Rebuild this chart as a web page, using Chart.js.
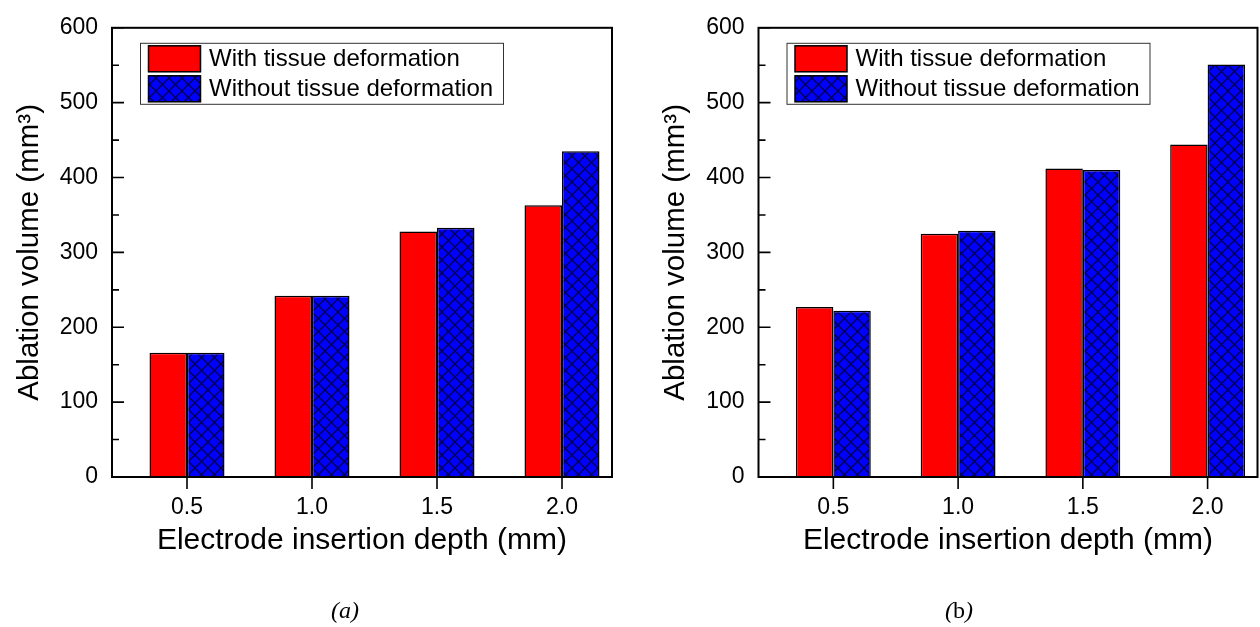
<!DOCTYPE html>
<html>
<head>
<meta charset="utf-8">
<script src="https://cdn.jsdelivr.net/npm/chart.js@4.4.1/dist/chart.umd.min.js"></script>
<style>
  body { margin: 0; background: #fff; width: 1260px; height: 627px; position: relative; overflow: hidden; }
  canvas { position: absolute; top: 0; }
  #chartA { left: 0; }
  #chartB { left: 630px; }
  .caption { position: absolute; top: 597px; font-family: "Liberation Serif", serif; font-size: 24px; color: #000; }
</style>
</head>
<body>
<canvas id="chartA" width="630" height="627"></canvas>
<canvas id="chartB" width="630" height="627"></canvas>
<div class="caption" style="left:331px"><i>(a)</i></div>
<div class="caption" style="left:945px"><i>(</i>b<i>)</i></div>
<script>
// electrode insertion depth (mm)
const depths = [0.5, 1.0, 1.5, 2.0];
// ablation volume (mm^3), panel (a)
const withDeformA = [166, 242, 328, 363];
const withoutDeformA = [166, 242, 333, 435];
// ablation volume (mm^3), panel (b)
const withDeformB = [227, 325, 412, 444];
const withoutDeformB = [222, 329, 410, 551];
const seriesLabels = ['With tissue deformation', 'Without tissue deformation'];

Chart.defaults.font.family = '"Liberation Sans", Arial, sans-serif';
Chart.defaults.color = '#000';

// blue cross-hatch fill
function makeHatch() {
  const s = 13;
  const c = document.createElement('canvas');
  c.width = s; c.height = s;
  const g = c.getContext('2d');
  g.fillStyle = '#0000ff';
  g.fillRect(0, 0, s, s);
  g.strokeStyle = '#00004a';
  g.lineWidth = 1.3;
  g.beginPath();
  g.moveTo(-2, -2); g.lineTo(s + 2, s + 2);
  g.moveTo(s + 2, -2); g.lineTo(-2, s + 2);
  g.stroke();
  return g.createPattern(c, 'repeat');
}

// box around the plot, inward y ticks, outward x ticks, boxed legend
const framePlugin = {
  id: 'frame',
  afterDatasetsDraw(chart) {
    const { ctx, chartArea: a, scales: { x, y } } = chart;
    ctx.save();
    ctx.strokeStyle = '#000';
    ctx.lineWidth = 2;
    ctx.strokeRect(a.left, a.top, a.right - a.left, a.bottom - a.top);

    ctx.lineWidth = 1.6;
    ctx.beginPath();
    y.ticks.forEach((t, i) => {
      const py = y.getPixelForValue(t.value);
      ctx.moveTo(a.left, py); ctx.lineTo(a.left + 12, py);
      if (i < y.ticks.length - 1) {
        const pm = y.getPixelForValue((t.value + y.ticks[i + 1].value) / 2);
        ctx.moveTo(a.left, pm); ctx.lineTo(a.left + 7, pm);
      }
    });
    x.ticks.forEach(t => {
      const px = x.getPixelForValue(t.value);
      ctx.moveTo(px, a.bottom); ctx.lineTo(px, a.bottom + 12);
    });
    ctx.stroke();

    // legend
    const bx = a.left + 28.5, by = a.top + 15.5;
    ctx.lineWidth = 1;
    ctx.strokeStyle = '#333';
    ctx.strokeRect(bx, by, 363, 61);
    ctx.font = '24px "Liberation Sans", Arial, sans-serif';
    ctx.textBaseline = 'middle';
    chart.data.datasets.forEach((ds, i) => {
      const sy = by + 2.5 + i * 30;
      ctx.fillStyle = ds.backgroundColor;
      ctx.fillRect(bx + 8, sy, 52, 26);
      ctx.lineWidth = 1.5;
      ctx.strokeStyle = '#000';
      ctx.strokeRect(bx + 8, sy, 52, 26);
      ctx.fillStyle = '#000';
      ctx.fillText(ds.label, bx + 68.5, sy + 14);
    });
    ctx.restore();
  }
};

function makeChart(id, withVals, withoutVals, padLeft, padRight) {
  const ctx = document.getElementById(id);
  return new Chart(ctx, {
    type: 'bar',
    data: {
      datasets: [{
        label: seriesLabels[0],
        data: depths.map((d, i) => ({ x: d, y: withVals[i] })),
        backgroundColor: '#ff0000',
        borderColor: '#000',
        borderWidth: 1.5
      }, {
        label: seriesLabels[1],
        data: depths.map((d, i) => ({ x: d, y: withoutVals[i] })),
        backgroundColor: makeHatch(),
        borderColor: '#000',
        borderWidth: 1.5
      }]
    },
    options: {
      responsive: false,
      animation: false,
      devicePixelRatio: 1,
      categoryPercentage: 0.6,
      barPercentage: 1.0,
      layout: { padding: { left: padLeft, right: padRight, top: 25, bottom: 0 } },
      plugins: { legend: { display: false }, tooltip: { enabled: false } },
      scales: {
        x: {
          type: 'linear',
          min: 0.2,
          max: 2.2,
          offset: false,
          grid: { display: false, drawTicks: false },
          border: { display: false },
          afterBuildTicks: scale => { scale.ticks = depths.map(v => ({ value: v })); },
          afterFit: scale => { scale.height = 150; },
          ticks: {
            font: { size: 23 },
            padding: 17,
            maxRotation: 0,
            callback: v => Number(v).toFixed(1)
          },
          title: {
            display: true,
            text: 'Electrode insertion depth (mm)',
            font: { size: 30 },
            padding: { top: 0, bottom: 68 }
          }
        },
        y: {
          min: 0,
          max: 600,
          grid: { display: false, drawTicks: false },
          border: { display: false },
          afterFit: scale => { scale.width = 112; },
          ticks: { stepSize: 100, font: { size: 23 }, padding: 14 },
          title: {
            display: true,
            text: 'Ablation volume (mm\u00B3)',
            font: { size: 29.5 },
            padding: { top: 12, bottom: 0 }
          }
        }
      }
    },
    plugins: [framePlugin]
  });
}

makeChart('chartA', withDeformA, withoutDeformA, 0, 18);
makeChart('chartB', withDeformB, withoutDeformB, 16.5, 2.5);
</script>
</body>
</html>
